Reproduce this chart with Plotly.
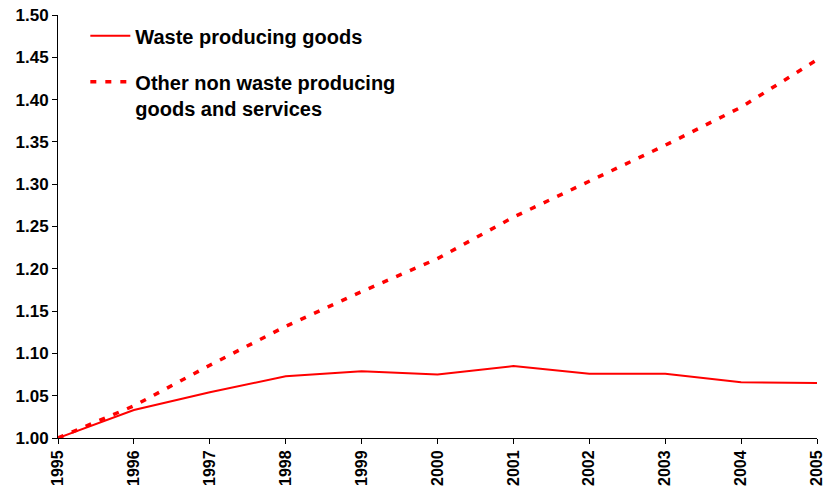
import plotly.graph_objects as go

years = [1995, 1996, 1997, 1998, 1999, 2000, 2001, 2002, 2003, 2004, 2005]
waste_goods = [1.000, 1.033, 1.054, 1.073, 1.079, 1.075, 1.085, 1.076, 1.076, 1.066, 1.065]
other_goods = [1.000, 1.038, 1.086, 1.132, 1.173, 1.212, 1.261, 1.304, 1.346, 1.391, 1.447]
y_ticks = [1.00, 1.05, 1.10, 1.15, 1.20, 1.25, 1.30, 1.35, 1.40, 1.45, 1.50]

fig = go.Figure()
fig.add_trace(go.Scatter(x=years, y=waste_goods, mode="lines", name="Waste producing goods",
                         legendgroup="a", line=dict(color="#ff0000", width=2)))
fig.add_trace(go.Scatter(x=years, y=other_goods, mode="lines",
                         name="Other non waste producing<br>goods and services",
                         legendgroup="b", line=dict(color="#ff0000", width=3.5, dash="6px,9px")))

fig.update_layout(
    width=826, height=492,
    margin=dict(l=58, r=9, t=15, b=54, autoexpand=False),
    paper_bgcolor="white", plot_bgcolor="white",
    font=dict(family="Liberation Sans, Arial, sans-serif", color="black"),
    legend=dict(x=0.036, y=0.997, xanchor="left", yanchor="top", valign="top",
                font=dict(size=20, family="Liberation Sans, Arial, sans-serif", weight="bold"),
                tracegroupgap=17, itemwidth=40, bgcolor="rgba(0,0,0,0)"),
    showlegend=True,
)
fig.update_xaxes(range=[1995, 2005], tickmode="array", tickvals=years,
                 ticktext=[str(y) for y in years], tickangle=-90, automargin=False,
                 ticklabeloverflow="allow",
                 tickfont=dict(size=16, weight="bold"), showgrid=False, zeroline=False,
                 showline=True, linecolor="black", linewidth=1,
                 ticks="outside", ticklen=5, tickcolor="black")
fig.update_yaxes(range=[1.0, 1.5], tickmode="array", tickvals=y_ticks,
                 ticktext=[f"{v:.2f}" for v in y_ticks], automargin=False,
                 ticklabeloverflow="allow",
                 tickfont=dict(size=17, weight="bold"), showgrid=False, zeroline=False,
                 showline=True, linecolor="black", linewidth=1,
                 ticks="outside", ticklen=5, tickcolor="black")

# remove the default page margin so the 826x492 figure fills the window exactly
fig.write_html("out.html", config={"displayModeBar": False},
               post_script="document.body.style.margin='0';")
